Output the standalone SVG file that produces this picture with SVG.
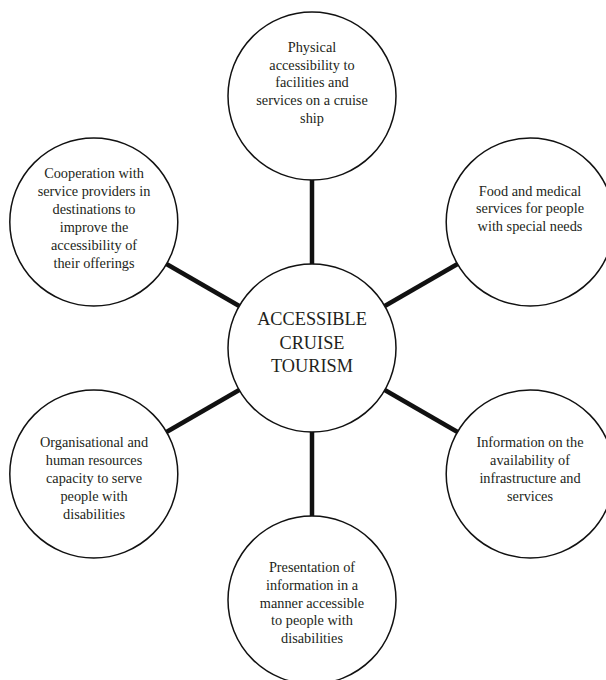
<svg xmlns="http://www.w3.org/2000/svg" width="606" height="680" viewBox="0 0 606 680">
<style>
.bg{fill:#ffffff}
.node circle{fill:#ffffff;stroke:#111111;stroke-width:1.5}
.node text{font-family:"Liberation Serif","Times New Roman",serif;font-size:14.3px;fill:#231f20;text-anchor:middle}
#center text{font-size:18.3px}
.conn line{stroke:#111111;stroke-width:4.5;stroke-linecap:butt}
</style>
<rect class="bg" x="0" y="0" width="606" height="680"/>
<g id="connectors" class="conn">
<line x1="312" y1="268" x2="312" y2="176"/>
<line x1="381.3" y1="308" x2="461" y2="262"/>
<line x1="381.3" y1="388" x2="461" y2="434"/>
<line x1="312" y1="428" x2="312" y2="520"/>
<line x1="242.7" y1="388" x2="163" y2="434"/>
<line x1="242.7" y1="308" x2="163" y2="262"/>
</g>
<g id="center" class="node">
<circle cx="312" cy="348" r="84"/>
<text x="312" y="325">ACCESSIBLE</text>
<text x="312" y="348.5">CRUISE</text>
<text x="312" y="372">TOURISM</text>
</g>
<g id="node-physical" class="node">
<circle cx="312" cy="96" r="84"/>
<text x="312" y="52">Physical</text>
<text x="312" y="69.7">accessibility to</text>
<text x="312" y="87.4">facilities and</text>
<text x="312" y="105.1">services on a cruise</text>
<text x="312" y="122.8">ship</text>
</g>
<g id="node-food" class="node">
<circle cx="530.2" cy="222" r="84"/>
<text x="530" y="195.5">Food and medical</text>
<text x="530" y="213.3">services for people</text>
<text x="530" y="231.1">with special needs</text>
</g>
<g id="node-information" class="node">
<circle cx="530.2" cy="474" r="84"/>
<text x="530" y="446.5">Information on the</text>
<text x="530" y="464.5">availability of</text>
<text x="530" y="482.5">infrastructure and</text>
<text x="530" y="500.5">services</text>
</g>
<g id="node-presentation" class="node">
<circle cx="312" cy="600" r="84"/>
<text x="312" y="572">Presentation of</text>
<text x="312" y="589.8">information in a</text>
<text x="312" y="607.6">manner accessible</text>
<text x="312" y="625.4">to people with</text>
<text x="312" y="643.2">disabilities</text>
</g>
<g id="node-organisational" class="node">
<circle cx="93.8" cy="474" r="84"/>
<text x="94" y="446.5">Organisational and</text>
<text x="94" y="464.5">human resources</text>
<text x="94" y="482.5">capacity to serve</text>
<text x="94" y="500.5">people with</text>
<text x="94" y="518.5">disabilities</text>
</g>
<g id="node-cooperation" class="node">
<circle cx="93.8" cy="222" r="84"/>
<text x="94" y="177.5">Cooperation with</text>
<text x="94" y="195.5">service providers in</text>
<text x="94" y="213.5">destinations to</text>
<text x="94" y="231.5">improve the</text>
<text x="94" y="249.5">accessibility of</text>
<text x="94" y="267.5">their offerings</text>
</g>
</svg>
